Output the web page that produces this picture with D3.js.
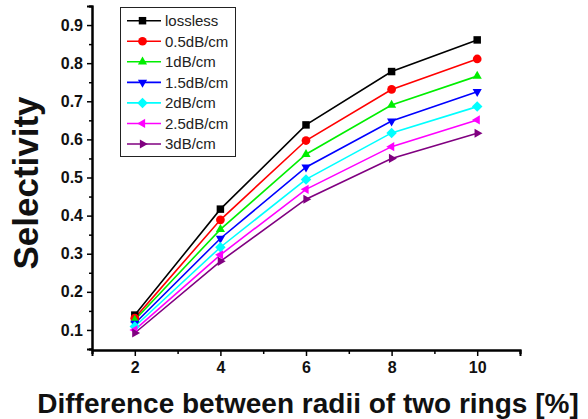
<!DOCTYPE html>
<html>
<head>
<meta charset="utf-8">
<script src="https://cdn.jsdelivr.net/npm/d3@7"></script>
<style>
  body { margin: 0; background: #fff; }
  svg { display: block; font-family: "Liberation Sans", Arial, sans-serif; }
  .legend text { font-size: 15px; fill: #222; }
  .tick text { font-size: 16px; font-weight: bold; fill: #111; }
</style>
</head>
<body>
<div class="chart"></div>
<script>
// DATA ------------------------------------
const xValues = [2, 4, 6, 8, 10]
const seriesNames = ["lossless", "0.5dB/cm", "1dB/cm", "1.5dB/cm", "2dB/cm", "2.5dB/cm", "3dB/cm"]
const lossless = [0.139, 0.417, 0.638, 0.778, 0.861]
const loss05 = [0.131, 0.389, 0.597, 0.731, 0.811]
const loss1 = [0.126, 0.364, 0.561, 0.690, 0.766]
const loss15 = [0.117, 0.340, 0.527, 0.648, 0.725]
const loss2 = [0.109, 0.317, 0.495, 0.617, 0.686]
const loss25 = [0.100, 0.297, 0.469, 0.581, 0.651]
const loss3 = [0.092, 0.280, 0.443, 0.550, 0.616]
const yTicks = [0.1, 0.2, 0.3, 0.4, 0.5, 0.6, 0.7, 0.8, 0.9]
const xTicks = [2, 4, 6, 8, 10]

const allValues = [lossless, loss05, loss1, loss15, loss2, loss25, loss3]
const colors = ["#000000", "#ff0000", "#00ee00", "#0000ff", "#00ffff", "#ff00ff", "#800080"]
const symbols = ["square", "circle", "up", "down", "diamond", "left", "right"]

const series = seriesNames.map((name, i) => ({
	name: name,
	color: colors[i],
	symbol: symbols[i],
	values: xValues.map((x, j) => ({x: x, y: allValues[i][j]}))
}))

// CHART INIT ------------------------------
const width = 588, height = 419

const svg = d3.select(".chart")
	.append("svg")
	.attr("width", width)
	.attr("height", height)

const xScale = d3.scaleLinear().domain([1, 11]).range([92, 520])
const yScale = d3.scaleLinear().domain([0.05, 0.95]).range([349, 6])

// axes
const xAxis = svg.append("g")
	.attr("transform", "translate(0,350)")
	.call(d3.axisBottom(xScale).tickValues(xTicks).tickSize(6).tickFormat(d3.format("d")))
xAxis.append("g")
	.call(d3.axisBottom(xScale).tickValues(d3.range(1, 12, 2)).tickSize(4).tickFormat(""))

const yAxis = svg.append("g")
	.attr("transform", "translate(92,0)")
	.call(d3.axisLeft(yScale).tickValues(yTicks).tickSize(5).tickFormat(d3.format(".1f")))
yAxis.append("g")
	.call(d3.axisLeft(yScale).tickValues(d3.range(0.05, 0.96, 0.1)).tickSize(3).tickFormat(""))

svg.selectAll(".domain").attr("stroke", "#000").attr("stroke-width", 2)
svg.selectAll(".tick line").attr("stroke", "#000").attr("stroke-width", 1.5)
xAxis.selectAll("text").attr("y", 9).attr("dy", "0.85em")
yAxis.selectAll("text").attr("x", -9)

// axis titles
svg.append("text")
	.attr("x", 308)
	.attr("y", 413)
	.attr("text-anchor", "middle")
	.style("font-size", "28px")
	.style("font-weight", "bold")
	.attr("fill", "#111")
	.text("Difference between radii of two rings [%]")

svg.append("text")
	.attr("transform", "translate(38,183) rotate(-90)")
	.attr("text-anchor", "middle")
	.style("font-size", "35px")
	.style("font-weight", "bold")
	.attr("fill", "#111")
	.text("Selectivity")

// markers
function symbolPath(kind) {
	if (kind == "square") return d3.symbol(d3.symbolSquare, 56)()
	if (kind == "circle") return d3.symbol(d3.symbolCircle, 60)()
	if (kind == "diamond") return d3.symbol(d3.symbolDiamond2, 70)()
	return d3.symbol(d3.symbolTriangle2, 60)()
}
function symbolRotate(kind) {
	if (kind == "down") return 180
	if (kind == "left") return -90
	if (kind == "right") return 90
	return 0
}

const line = d3.line().x(d => xScale(d.x)).y(d => yScale(d.y))

// draw lines
svg.selectAll(".series-line")
	.data(series)
	.enter()
	.append("path")
	.attr("class", "series-line")
	.attr("d", d => line(d.values))
	.attr("fill", "none")
	.attr("stroke", d => d.color)
	.attr("stroke-width", 1.6)

// draw points
series.forEach(s => {
	svg.selectAll(null)
		.data(s.values)
		.enter()
		.append("path")
		.attr("d", symbolPath(s.symbol))
		.attr("transform", d => `translate(${xScale(d.x)},${yScale(d.y)}) rotate(${symbolRotate(s.symbol)})`)
		.attr("fill", s.color)
})

// LEGEND ----------------------------------
const legend = svg.append("g").attr("class", "legend")
legend.append("rect")
	.attr("x", 120.5).attr("y", 7.5)
	.attr("width", 115).attr("height", 149)
	.attr("fill", "#fff")
	.attr("stroke", "#222")
	.attr("stroke-width", 1)

const rows = legend.selectAll(".row")
	.data(series)
	.enter()
	.append("g")
	.attr("class", "row")
	.attr("transform", (d, i) => `translate(0,${20.7 + i * 20.55})`)

rows.append("line")
	.attr("x1", 127).attr("x2", 161)
	.attr("stroke", d => d.color)
	.attr("stroke-width", 1.6)
rows.append("path")
	.attr("d", d => symbolPath(d.symbol))
	.attr("transform", d => `translate(142.5,0) rotate(${symbolRotate(d.symbol)})`)
	.attr("fill", d => d.color)
rows.append("text")
	.attr("x", 165)
	.attr("dy", "0.35em")
	.text(d => d.name)
</script>
</body>
</html>
